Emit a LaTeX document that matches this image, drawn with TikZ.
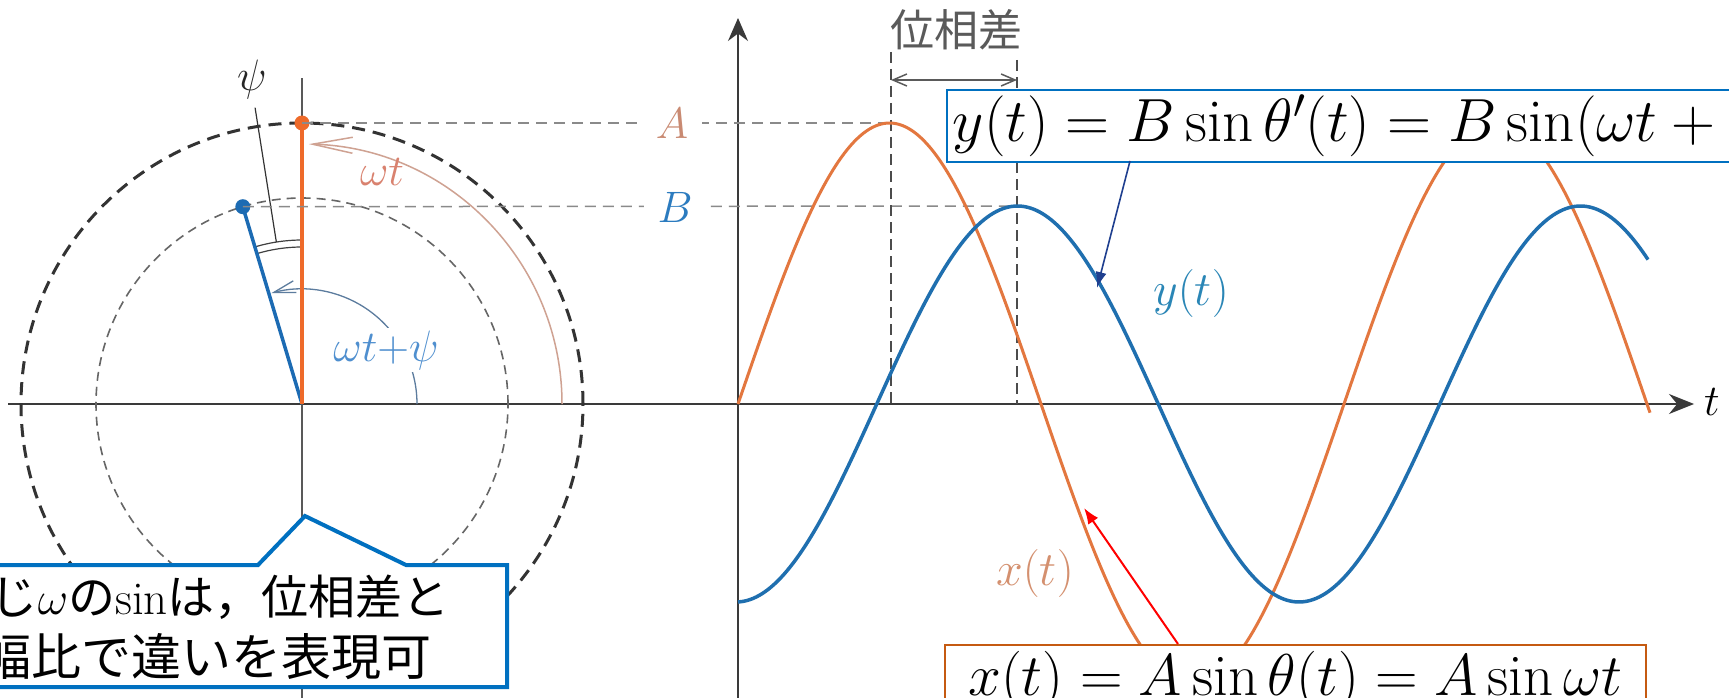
\RequirePackage{fix-cm}
\documentclass[tikz,border=0pt]{standalone}
\usepackage{fontspec}
\usetikzlibrary{arrows.meta}
\newfontfamily\jp{Noto Sans CJK JP}
\definecolor{orcurve}{HTML}{E3773F}
\definecolor{orline}{HTML}{EE6A2A}
\definecolor{blcurve}{HTML}{1F6FAF}
\definecolor{blline}{HTML}{1C6BB3}
\definecolor{Alab}{HTML}{C98A72}
\definecolor{Blab}{HTML}{2B7BBF}
\definecolor{wtlab}{HTML}{D9826F}
\definecolor{wtarc}{HTML}{CFA292}
\definecolor{wpsilab}{HTML}{4F8FCF}
\definecolor{wpsiarc}{HTML}{5C7C9E}
\definecolor{boxblue}{HTML}{0070C0}
\definecolor{boxor}{HTML}{C55A11}
\definecolor{navyarrow}{HTML}{1F3F8F}
\definecolor{ylab}{HTML}{2A86B6}
\definecolor{xlab}{HTML}{D4906F}
\definecolor{axisgray}{HTML}{3A3A3A}
\definecolor{dashgray}{HTML}{8A8A8A}
\definecolor{phgray}{HTML}{5A5A5A}
\tikzset{
  axisline/.style={draw=axisgray, line width=1.6pt},
  outerdash/.style={draw=black!80, line width=3pt, dash pattern=on 13pt off 8pt},
  innerdash/.style={draw=black!60, line width=1.6pt, dash pattern=on 9pt off 6pt},
  leveldash/.style={draw=dashgray, line width=1.5pt, dash pattern=on 11pt off 7pt},
  vdash/.style={draw=black!70, line width=1.6pt, dash pattern=on 11pt off 6pt},
  orcurvestyle/.style={draw=orcurve, line width=3pt},
  blcurvestyle/.style={draw=blcurve, line width=3.5pt},
  lbl/.style={inner sep=1pt, font=\fontsize{44}{48}\selectfont},
  eqbox/.style={line width=1.6pt, fill=white, inner xsep=6pt, inner ysep=6.5pt, text height=44pt, text depth=15pt, font=\fontsize{59}{62}\selectfont},
  calltext/.style={anchor=base east, inner sep=0, font=\jp\fontsize{47}{47}\selectfont},
}
\begin{document}
\begin{tikzpicture}[x=1pt,y=-1pt]
\useasboundingbox (0,0) rectangle (1729,698);
\clip (0,0) rectangle (1729,698);
\fill[white] (0,0) rectangle (1729,698);

% title (cut off at the top)
\node[anchor=south west, inner sep=0, font=\jp\bfseries\fontsize{60}{60}\selectfont] (title) at (0,-6) {で振幅と位相を比較する};

% axes
\coordinate (hs) at (8,404);
\coordinate (he) at (1694,404);
\draw[axisline, -{Stealth[length=25pt,width=20pt]}] (hs) -- (he);
\node[lbl, anchor=west] (tlab) at (1703,402) {$t$};
\coordinate (vls) at (302,698);
\coordinate (vle) at (302,78);
\draw[axisline, line width=1.3pt, draw=black!65] (vls) -- (vle);
\coordinate (gys) at (738,698);
\coordinate (gye) at (738,18);
\draw[axisline, -{Stealth[length=23pt,width=20pt]}] (gys) -- (gye);

% circle part
\begin{scope}[shift={(302,404)}, yscale=-1]
  \coordinate (O) at (0,0);
  \draw[outerdash] (O) circle (281);
  \draw[innerdash] (O) circle (206);
  \coordinate (P) at (90:281);
  \coordinate (Q) at (106.7:206);
  % omega t arc
  \draw[draw=wtarc, line width=1.5pt, -{Straight Barb[length=40pt,width=16pt]}] (0:260) arc[start angle=0, end angle=88.5, radius=260];
  % omega t + psi arc
  \draw[draw=wpsiarc, line width=1.3pt, -{Straight Barb[length=22pt,width=12pt]}] (0:115) arc[start angle=0, end angle=105.5, radius=115];
  % psi marks
  \draw[black!75, line width=1.2pt] (90:157) arc[start angle=90, end angle=106.7, radius=157];
  \draw[black!75, line width=1.2pt] (90:164) arc[start angle=90, end angle=106.7, radius=164];
  \coordinate (psa) at (99:164);
  \coordinate (psb) at (99:300);
  \draw[black!80, line width=1.2pt] (psa) -- (psb);
  % phasors
  \draw[draw=blline, line width=3.5pt] (O) -- (Q);
  \draw[draw=orline, line width=4pt] (O) -- (P);
\end{scope}
\node[lbl, text=black!85] (psilab) at (252,80) {$\psi$};
\fill[orline] (P) circle (7.5);
\fill[blline] (Q) circle (7.5);
\node[lbl, text=wtlab] (wtl) at (382,172) {$\omega t$};
\node[lbl, text=wpsilab, fill=white, inner sep=2pt] (wpl) at (386,350) {$\omega t{+}\psi$};

% level lines
\coordinate (Apk) at (891,123);
\coordinate (Bpk) at (1017,206);
\draw[leveldash] (P) -- (Apk);
\draw[leveldash] (Q) -- (Bpk);
\node[lbl, text=Alab, fill=white, inner xsep=14pt] (Al) at (672,123) {$A$};
\node[lbl, text=Blab, fill=white, inner xsep=14pt] (Bl) at (675,207) {$B$};

% vertical dashed lines and phase difference
\coordinate (d1t) at (891,52);
\coordinate (d1b) at (891,404);
\coordinate (d2t) at (1017,60);
\coordinate (d2b) at (1017,404);
\draw[vdash] (d1t) -- (d1b);
\draw[vdash] (d2t) -- (d2b);
\coordinate (pa1) at (891,80);
\coordinate (pa2) at (1017,80);
\draw[draw=phgray, line width=1.5pt, {Straight Barb[length=14pt,width=12pt]}-{Straight Barb[length=14pt,width=12pt]}] (pa1) -- (pa2);
\node[inner sep=0, text=phgray, font=\jp\fontsize{44}{44}\selectfont] (phlab) at (956,30) {位相差};

% curves
\draw[orcurvestyle] plot[domain=738:1650, samples=300] (\x,{404-281*sin((\x-738)/606*360)});
\draw[blcurvestyle] plot[domain=738:1648, samples=300] (\x,{404+198*cos((\x-736)/563*360)});

\node[lbl, text=ylab, font=\fontsize{48}{50}\selectfont] (ycl) at (1191,293) {$y(t)$};
\node[lbl, text=xlab, font=\fontsize{48}{50}\selectfont] (xcl) at (1035,573) {$x(t)$};

% equation boxes
\node[eqbox, draw=boxblue, anchor=north west, inner ysep=5.5pt, text height=45.75pt, text depth=15.25pt, font=\fontsize{61}{64}\selectfont] (ybox) at (946,89) {$y(t) = B\sin\theta'(t) = B\sin(\omega t+\psi)$};
\node[eqbox, draw=boxor, anchor=north west, minimum width=701pt] (xbox) at (944,644) {$x(t) = A\sin\theta(t) = A\sin\omega t$};

\coordinate (ya) at (1130,161);
\coordinate (yb) at (1097,288);
\draw[draw=navyarrow, line width=1.6pt, -{Latex[length=16pt,width=11pt]}] (ya) -- (yb);
\coordinate (xa) at (1178,644);
\coordinate (xb) at (1084,508);
\draw[draw=red, line width=2pt, -{Latex[length=16pt,width=12pt]}] (xa) -- (xb);

% callout
\draw[draw=boxblue, line width=4pt, fill=white, line join=miter] (-10,565) -- (258,565) -- (305,516) -- (406,565) -- (507,565) -- (507,687) -- (-10,687) -- cycle;
\node[calltext] (cl1) at (450,614) {じ{\rmfamily$\omega$}の{\rmfamily sin}は，位相差と};
\node[calltext, font=\jp\fontsize{50}{50}\selectfont] (cl2) at (432,675) {幅比で違いを表現可};
\end{tikzpicture}
\end{document}
